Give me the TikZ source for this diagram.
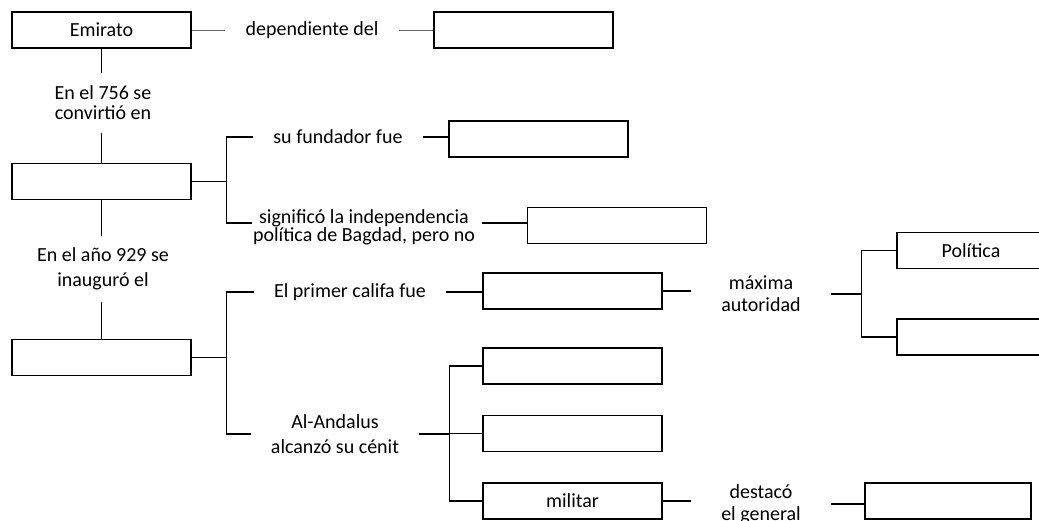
\documentclass[tikz,border=0pt]{standalone}
\usepackage{fontspec}
\setmainfont{Carlito}

\tikzset{
  caja/.style={draw, line width=1.3pt, minimum width=179pt, minimum height=36pt, inner sep=0pt},
  rotulo/.style={align=center, inner xsep=20pt, inner ysep=2pt},
  enlace/.style={line width=1.2pt},
}

\begin{document}
\begin{tikzpicture}[x=1pt, y=-1pt, font=\fontsize{20}{22}\selectfont]
  \useasboundingbox (0,0) rectangle (1039,521);

  % left column
  \node[caja] (emir) at (101.5,30) {Emirato};
  \node[rotulo, inner ysep=12.5pt, font=\fontsize{20}{20}\selectfont] (t756) at (103,103) {En el 756 se\\convirtió en};
  \node[caja] (b2) at (101.5,181.5) {};
  \node[rotulo, inner ysep=12pt, font=\fontsize{20}{25}\selectfont] (t929) at (103,269) {En el año 929 se\\inauguró el};
  \node[caja] (b3) at (101.5,357.5) {};

  % top row
  \node[rotulo] (depdel) at (312,30) {dependiente del};
  \node[caja] (b1) at (523.5,30) {};

  % emirato independiente
  \node[rotulo] (tfund) at (338,137) {su fundador fue};
  \node[caja] (b4) at (538.5,139) {};
  \node[rotulo, inner xsep=1pt, font=\fontsize{20}{18}\selectfont] (tsig) at (364,227) {significó la independencia\\política de Bagdad, pero no};
  \node[caja] (b5) at (617,225.5) {};

  % califato
  \node[rotulo] (tcal) at (350,292) {El primer califa fue};
  \node[caja] (b6) at (572.5,291) {};
  \node[rotulo, inner xsep=30pt] (tmax) at (761,294) {máxima\\autoridad};
  \node[caja, minimum width=148pt] (b7) at (971,250.5) {Política};
  \node[caja, minimum width=148pt] (b8) at (971,337) {};

  \node[rotulo, font=\fontsize{20}{25}\selectfont] (tand) at (335,434) {Al-Andalus\\alcanzó su cénit};
  \node[caja] (b9) at (572.5,366) {};
  \node[caja] (b10) at (572.5,433.5) {};
  \node[caja] (b11) at (572.5,501) {militar};
  \node[rotulo, inner xsep=30pt] (tdest) at (761,504) {destacó\\el general};
  \node[caja, minimum width=166pt] (b12) at (948,501) {};

  % connectors
  \draw[line width=0.8pt, black!60] (emir.east) -- (emir.east -| depdel.west);
  \draw[line width=0.8pt, black!60] (depdel.east) -- (depdel.east -| b1.west);
  \draw[enlace] (emir.south) -- (emir.south |- t756.north);
  \draw[enlace] (b2.north) -- (b2.north |- t756.south);
  \draw[enlace] (b2.south) -- (b2.south |- t929.north);
  \draw[enlace] (b3.north) -- (b3.north |- t929.south);

  \draw[enlace] (b2.east) -- ++(35,0) coordinate (k2);
  \draw[enlace] (k2) |- (tfund.west);
  \draw[enlace] (k2) |- ([yshift=4pt]tsig.west);
  \draw[enlace] (tfund.east) -- (tfund.east -| b4.west);
  \draw[enlace] ([yshift=4pt]tsig.east) ++(6,0) -- ([yshift=4pt]tsig.east -| b5.west);

  \draw[enlace] (b3.east) -- ++(35,0) coordinate (k3);
  \draw[enlace] (k3) |- (tcal.west);
  \draw[enlace] (k3) |- (tand.west);
  \draw[enlace] (tcal.east) -- (tcal.east -| b6.west);
  \draw[enlace] (b6.east) -- (b6.east -| tmax.west);
  \draw[enlace] (tmax.east) -- ++(31,0) coordinate (k6);
  \draw[enlace] (k6) |- (b7.west);
  \draw[enlace] (k6) |- (b8.west);

  \draw[enlace] (tand.east) -- ++(30,0) coordinate (k7);
  \foreach \b in {b9, b10, b11} {
    \draw[enlace] (k7) |- (\b.west);
  }
  \draw[enlace] (b11.east) -- (b11.east -| tdest.west);
  \draw[enlace] (tdest.east) -- (tdest.east -| b12.west);
\end{tikzpicture}
\end{document}
